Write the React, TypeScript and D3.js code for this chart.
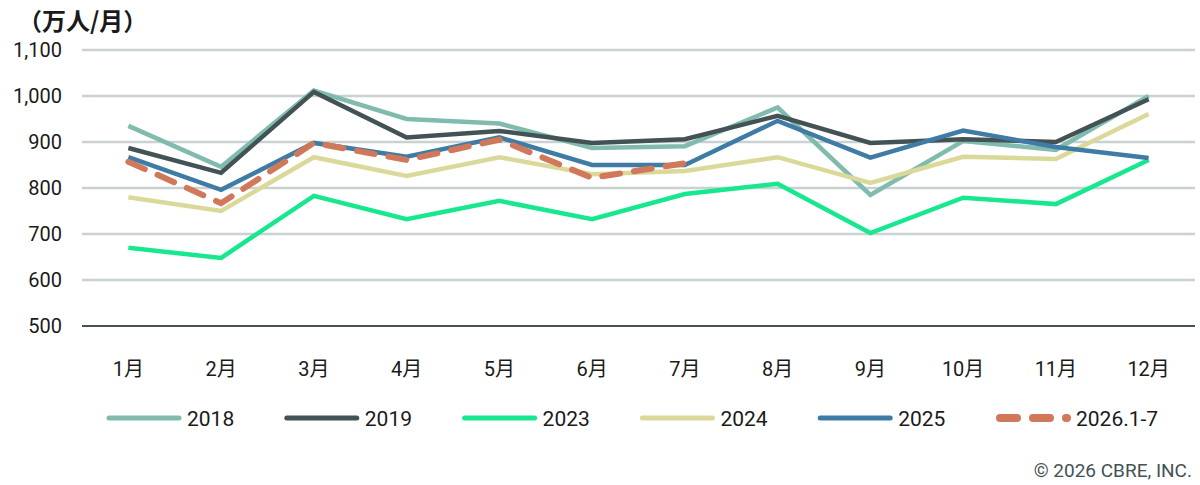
import React from 'react';
import * as d3 from 'd3';

const months = ['1月', '2月', '3月', '4月', '5月', '6月', '7月', '8月', '9月', '10月', '11月', '12月'];
const yTicks = [500, 600, 700, 800, 900, 1000, 1100];

const s2018 = [935, 846, 1012, 950, 940, 887, 891, 975, 785, 902, 883, 1000];
const s2019 = [887, 833, 1009, 910, 924, 898, 906, 957, 898, 906, 900, 993];
const s2023 = [670, 648, 783, 732, 772, 732, 787, 809, 702, 779, 765, 861];
const s2024 = [780, 750, 867, 826, 867, 830, 837, 867, 811, 868, 863, 961];
const s2025 = [867, 796, 898, 868, 910, 850, 850, 946, 866, 925, 889, 865];
const s2026 = [857, 767, 898, 861, 905, 822, 854];

const series = [
  { name: '2018', values: s2018, color: '#80BBAD', dashed: false },
  { name: '2019', values: s2019, color: '#435254', dashed: false },
  { name: '2023', values: s2023, color: '#17E88F', dashed: false },
  { name: '2024', values: s2024, color: '#DBD99A', dashed: false },
  { name: '2025', values: s2025, color: '#3E7CA6', dashed: false },
  { name: '2026.1-7', values: s2026, color: '#D2785A', dashed: true },
];

const W = 1200;
const H = 485;
const margin = { top: 50, right: 5, bottom: 159, left: 82 };
const numFont = 'Roboto, "Noto Sans CJK JP", sans-serif';
const jpFont = '"Noto Sans CJK JP", "Noto Sans", sans-serif';

export default function App() {
  const x = d3
    .scalePoint<string>()
    .domain(months)
    .range([margin.left, W - margin.right])
    .padding(0.5);

  const y = d3
    .scaleLinear()
    .domain([500, 1100])
    .range([H - margin.bottom, margin.top]);

  const line = d3
    .line<number>()
    .x((_, i) => x(months[i]) as number)
    .y(d => y(d));

  // legend items are evenly spaced
  const legendX = d3
    .scaleLinear()
    .domain([0, series.length - 1])
    .range([107, 996]);

  return (
    <div style={{ position: 'absolute', left: 0, top: 0 }}>
      <svg width={W} height={H} style={{ display: 'block', background: '#fff' }}>
        <text x={18} y={30} fontFamily={jpFont} fontSize={24} fontWeight={700} fill="#1a1a1a">
          （万人/月）
        </text>

        {/* grid */}
        {yTicks.map(t => (
          <line
            key={t}
            x1={margin.left}
            x2={W - margin.right}
            y1={y(t)}
            y2={y(t)}
            stroke={t === 500 ? '#435254' : '#CAD1D3'}
            strokeWidth={t === 500 ? 2 : 2.5}
          />
        ))}

        {yTicks.map(t => (
          <text
            key={t}
            x={62}
            y={y(t)}
            dy="0.36em"
            textAnchor="end"
            fontFamily={numFont}
            fontSize={20}
            fill="#1a1a1a"
          >
            {d3.format(',')(t)}
          </text>
        ))}

        {months.map(m => (
          <text
            key={m}
            x={x(m)}
            y={376}
            textAnchor="middle"
            fontFamily={numFont}
            fontSize={20}
            fill="#1a1a1a"
          >
            {m}
          </text>
        ))}

        {series.map(s => (
          <path
            key={s.name}
            d={line(s.values) || ''}
            fill="none"
            stroke={s.color}
            strokeWidth={s.dashed ? 6 : 4.5}
            strokeDasharray={s.dashed ? '18,14' : undefined}
            strokeLinecap={s.dashed ? 'round' : 'butt'}
            strokeLinejoin="miter"
          />
        ))}

        {/* legend */}
        {series.map((s, i) => {
          const lx = legendX(i);
          return (
            <g key={s.name} transform={`translate(${lx},418)`}>
              <line
                x1={s.dashed ? 4 : 2}
                x2={s.dashed ? 71 : 72}
                y1={0}
                y2={0}
                stroke={s.color}
                strokeWidth={s.dashed ? 8 : 5}
                strokeDasharray={s.dashed ? '17,16' : undefined}
                strokeLinecap="round"
              />
              <text x={80} y={0} dy="0.36em" fontFamily={numFont} fontSize={21} fill="#1a1a1a">
                {s.name}
              </text>
            </g>
          );
        })}

        <text x={1192} y={477} textAnchor="end" fontFamily={numFont} fontSize={19} fill="#435254">
          © 2026 CBRE, INC.
        </text>
      </svg>
    </div>
  );
}
